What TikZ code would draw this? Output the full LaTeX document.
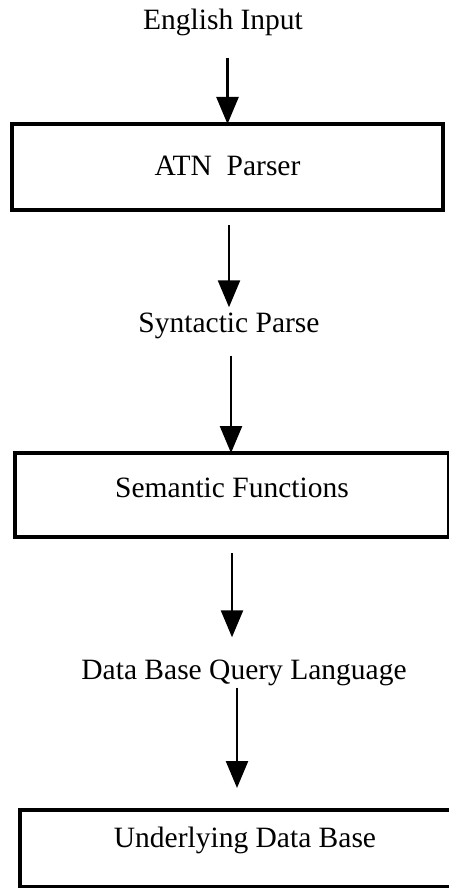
\documentclass[tikz,border=0pt]{standalone}
\usepackage{fontspec}
\setmainfont{Liberation Serif}
\usetikzlibrary{positioning}
\usetikzlibrary{arrows.meta}
\usetikzlibrary{math}

\begin{document}
\begin{tikzpicture}[x=1pt,y=-1pt,
    stagetext/.style={font=\fontsize{29.5}{35}\selectfont, inner sep=0pt, anchor=base},
    stagebox/.style={draw, line width=3.5pt, inner sep=0pt, outer sep=0pt,
      anchor=north west, font=\fontsize{29.5}{35}\selectfont},
    flow/.style={line width=2.5pt, -{Triangle[width=22pt,length=27pt]}}]

  \tikzmath{
    \boxleft = 12;  % left edge of the first box
    \headgap = 22;  % free space between arrow tip and text below
  }

  \useasboundingbox (0,0) rectangle (449,888);

  % stages of the pipeline
  \node[stagetext] (input) at (223,30) {English Input};
  \node[stagebox, minimum width=431pt, text height=51pt, text depth=35pt]
    (atn) at (\boxleft,124) {ATN\ \ Parser};
  \node[stagetext] (synparse) at (229,332) {Syntactic Parse};
  \node[stagebox, minimum width=434pt, text height=44pt, text depth=40pt]
    (semfun) at (15,453) {Semantic Functions};
  \node[stagetext] (dbquery) at (244,679) {Data Base Query Language};
  \node[stagebox, minimum width=450pt, text height=37pt, text depth=40pt]
    (database) at (20,810) {Underlying Data Base};

  % arrows between the stages
  \draw[flow, shorten <=21pt] (atn.north |- input.south) -- (atn.north);
  \draw[flow, shorten <=15pt, shorten >=5pt] (atn.south -| synparse.north) -- (synparse.north);
  \draw[flow, shorten <=17pt] ([xshift=2pt]synparse.south) -- ([xshift=2pt]synparse.south |- semfun.north);
  \draw[flow, shorten <=16pt, shorten >=\headgap pt] (semfun.south) -- (semfun.south |- dbquery.north);
  \draw[flow, shorten <=2pt, shorten >=\headgap pt] ([xshift=-7pt]dbquery.south) -- ([xshift=-7pt]dbquery.south |- database.north);

\end{tikzpicture}
\end{document}
